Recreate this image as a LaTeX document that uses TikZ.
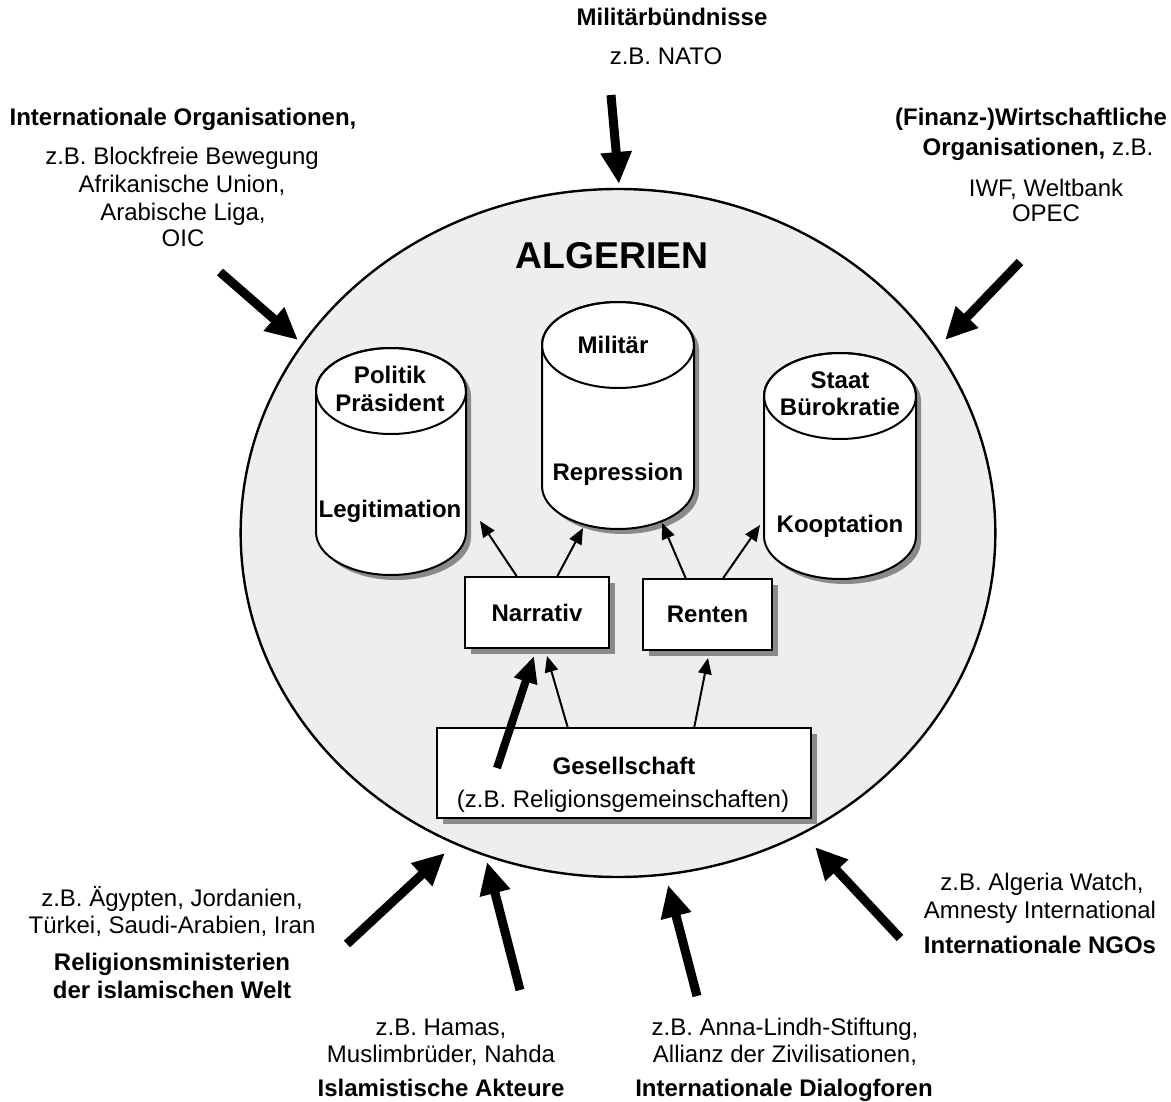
\documentclass[tikz,border=0pt]{standalone}
\usepackage{fontspec}
\setmainfont{Liberation Sans}
\usetikzlibrary{arrows.meta,shapes.geometric,calc,shadows}
\definecolor{algfill}{HTML}{EEEEEE}
\definecolor{shadowgray}{HTML}{8A8A8A}

% cylinder: #1 centre x, #2 y of top cap, #3 y of bottom cap, #4 x radius
\newcommand\pillar[4]{%
  \fill[shadowgray] ({#1-#4+5},{#2+5}) -- ({#1-#4+5},{#3+5})
    arc[start angle=180,end angle=0,x radius=#4,y radius=43]
    -- ({#1+#4+5},{#2+5})
    arc[start angle=0,end angle=-180,x radius=#4,y radius=43] -- cycle;
  \draw[line width=1.5pt,fill=white] ({#1-#4},#2) -- ({#1-#4},#3)
    arc[start angle=180,end angle=0,x radius=#4,y radius=43]
    -- ({#1+#4},#2)
    arc[start angle=0,end angle=-180,x radius=#4,y radius=43] -- cycle;
  \draw[line width=1.5pt] (#1,#2) ellipse[x radius=#4,y radius=43];
}

\begin{document}
\begin{tikzpicture}[x=0.75pt,y=-0.75pt,
  lbl/.style={anchor=base,inner sep=0pt,font=\fontsize{18}{21}\selectfont},
  blbl/.style={anchor=base,inner sep=0pt,font=\fontsize{18}{21}\selectfont\bfseries},
  bigarrow/.style={line width=6.75pt,-{Triangle[length=24pt,width=22pt]}},
  midarrow/.style={line width=6pt,-{Triangle[length=20pt,width=17pt]}},
  smallarrow/.style={line width=1.5pt,-{Triangle[length=12pt,width=10pt]}},
  boxnode/.style={draw,line width=1.5pt,fill=white,inner sep=0pt,
    font=\fontsize{18}{21}\selectfont\bfseries,
    drop shadow={shadow xshift=4.5pt,shadow yshift=-4.5pt,fill=shadowgray,opacity=1}},
]
\useasboundingbox (0,0) rectangle (1171,1102);

% the country
\node[ellipse,draw,line width=1.8pt,fill=algfill,minimum width=566pt,
  minimum height=516pt,inner sep=0pt] (alg) at (618,533) {};
\node[anchor=base,inner sep=0pt,font=\fontsize{28}{30}\selectfont\bfseries]
  (algname) at (612,268) {ALGERIEN};

% the three pillars
\pillar{391}{391}{532}{75}
\pillar{618}{345}{486}{76}
\pillar{840}{396}{536}{76}
\node[blbl] (polA) at (390,383) {Politik};
\node[blbl] (polB) at (390,411) {Präsident};
\node[blbl] (polC) at (390,517) {Legitimation};
\node[blbl] (milA) at (613,353) {Militär};
\node[blbl] (milB) at (618,480) {Repression};
\node[blbl] (staA) at (840,388) {Staat};
\node[blbl] (staB) at (840,415) {Bürokratie};
\node[blbl] (staC) at (840,532) {Kooptation};

% boxes
\node[boxnode,minimum width=108pt,minimum height=53.25pt] (narr) at (537,612.5) {Narrativ};
\node[boxnode,minimum width=96.75pt,minimum height=53.25pt] (rent) at (707.5,614.5) {Renten};
\node[boxnode,minimum width=280.5pt,minimum height=67.5pt] (ges) at (624,773) {};
\node[blbl] (gesA) at (624,774) {Gesellschaft};
\node[lbl] (gesB) at (623,807) {(z.B. Religionsgemeinschaften)};

% inner arrows
\coordinate (tPol) at (480,521);
\coordinate (tMilL) at (583,528);
\coordinate (tMilR) at (662,523);
\coordinate (tSta) at (760,525);
\coordinate (tNarrB) at (547,656);
\coordinate (tRent) at (708,658);
\coordinate (tNarrA) at (534,656);
\coordinate (sThick) at (497,768);
\draw[smallarrow] ($(narr.north west)!0.36!(narr.north east)$) -- (tPol);
\draw[smallarrow] ($(narr.north west)!0.64!(narr.north east)$) -- (tMilL);
\draw[smallarrow] ($(rent.north west)!0.333!(rent.north east)$) -- (tMilR);
\draw[smallarrow] ($(rent.north west)!0.62!(rent.north east)$) -- (tSta);
\draw[smallarrow] ($(ges.north west)!0.35!(ges.north east)$) -- (tNarrB);
\draw[smallarrow] ($(ges.north west)!0.687!(ges.north east)$) -- (tRent);
\draw[midarrow] (sThick) -- (tNarrA);

% outside actors
\node[blbl] (natoA) at (672,26) {Militärbündnisse};
\node[lbl] (natoB) at (666,65) {z.B. NATO};
\coordinate (aTopS) at (611,95);
\coordinate (aTopE) at (619,184);
\draw[bigarrow] (aTopS) -- (aTopE);

\node[blbl] (ioA) at (183,126) {Internationale Organisationen,};
\node[lbl] (ioB) at (182,165) {z.B. Blockfreie Bewegung};
\node[lbl] (ioC) at (182,193) {Afrikanische Union,};
\node[lbl] (ioD) at (183,220) {Arabische Liga,};
\node[lbl] (ioE) at (183,247) {OIC};
\coordinate (aIoS) at (220,272);
\coordinate (aIoE) at (298,340);
\draw[bigarrow] (aIoS) -- (aIoE);

\node[blbl] (fwA) at (1031,126) {(Finanz-)Wirtschaftliche};
\node[lbl] (fwB) at (1038,156) {\textbf{Organisationen,} z.B.};
\node[lbl] (fwC) at (1046,196) {IWF, Weltbank};
\node[lbl] (fwD) at (1046,221) {OPEC};
\coordinate (aFwS) at (1020,262);
\coordinate (aFwE) at (945,340);
\draw[bigarrow] (aFwS) -- (aFwE);

\node[lbl] (rmA) at (172,906) {z.B. Ägypten, Jordanien,};
\node[lbl] (rmB) at (172,933) {Türkei, Saudi-Arabien, Iran};
\node[blbl] (rmC) at (172,970) {Religionsministerien};
\node[blbl] (rmD) at (172,998) {der islamischen Welt};
\coordinate (aRmS) at (347,944);
\coordinate (aRmE) at (445,853);
\draw[bigarrow] (aRmS) -- (aRmE);

\node[lbl] (iaA) at (441,1035) {z.B. Hamas,};
\node[lbl] (iaB) at (441,1062) {Muslimbrüder, Nahda};
\node[blbl] (iaC) at (441,1096) {Islamistische Akteure};
\coordinate (aIaS) at (520,990);
\coordinate (aIaE) at (487,862);
\draw[bigarrow] (aIaS) -- (aIaE);

\node[lbl] (dfA) at (785,1035) {z.B. Anna-Lindh-Stiftung,};
\node[lbl] (dfB) at (785,1062) {Allianz der Zivilisationen,};
\node[blbl] (dfC) at (784,1096) {Internationale Dialogforen};
\coordinate (aDfS) at (697,996);
\coordinate (aDfE) at (668,885);
\draw[bigarrow] (aDfS) -- (aDfE);

\node[lbl] (ngA) at (1042,890) {z.B. Algeria Watch,};
\node[lbl] (ngB) at (1040,918) {Amnesty International};
\node[blbl] (ngC) at (1040,953) {Internationale NGOs};
\coordinate (aNgS) at (900,938);
\coordinate (aNgE) at (815,847);
\draw[bigarrow] (aNgS) -- (aNgE);
\end{tikzpicture}
\end{document}
